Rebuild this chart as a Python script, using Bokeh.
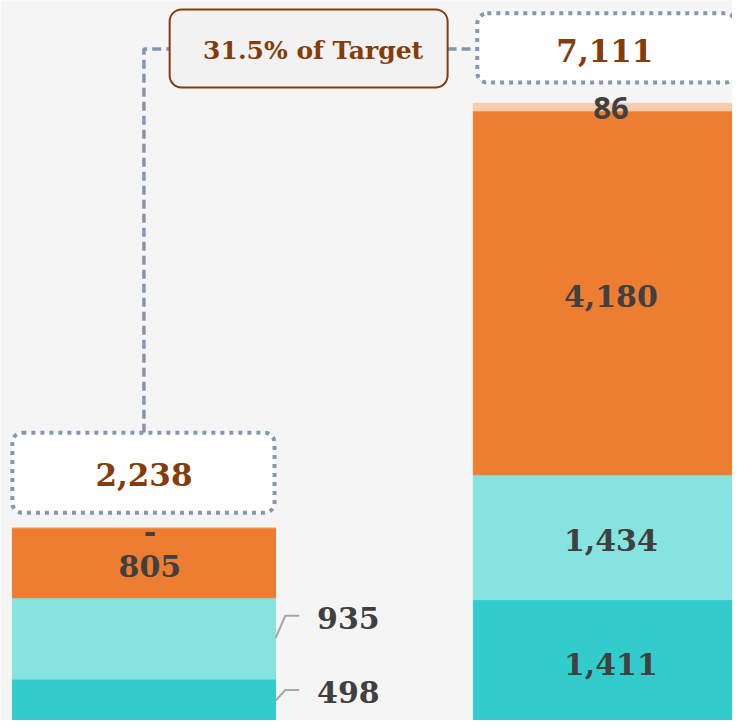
from bokeh.plotting import figure
from bokeh.models import Range1d, ColumnDataSource, BoxAnnotation, Label
from bokeh.core.properties import value
from bokeh.embed import file_html
from bokeh.resources import INLINE

# ---------------- data ----------------
categories = ["Actual", "Target"]
series_names = ["Series A", "Series B", "Series C", "Series D"]
series_a = [498, 1411]
series_b = [935, 1434]
series_c = [805, 4180]
series_d = [0, 86]
colors = ["#33CCCC", "#87E3DF", "#ED7D31", "#F8CBAD"]

# ---------------- layout ----------------
W, H = 732, 720
RW, RH = 740, 728    # reference frame the layout numbers are measured in
X0 = 145             # centre of first bar (ref px)
STEP = 466           # distance between bar centres (ref px)
BASE = 730           # baseline (ref px from top)
K = 0.08803          # ref px per unit
BAR_W = 266 / STEP

def xs(px):  # ref px -> data x
    return (px - X0) / STEP

def ys(py):  # ref px -> data y
    return (BASE - py) / K

p = figure(width=W, height=H, output_backend="svg", toolbar_location=None,
           x_range=Range1d(xs(0), xs(RW)), y_range=Range1d(ys(RH), ys(0)),
           min_border=0)
p.xaxis.visible = False
p.yaxis.visible = False
p.grid.visible = False
p.outline_line_color = None
p.background_fill_color = "#F5F5F5"
p.border_fill_color = "#F5F5F5"

xpos = list(range(len(categories)))
series = [series_a, series_b, series_c, series_d]
src = ColumnDataSource(dict(x=xpos, **{n: v for n, v in zip(series_names, series)}))
p.vbar_stack(series_names, x="x", width=BAR_W, color=colors, source=src)

totals = [sum(s[i] for s in series) for i in xpos]

def fmt(v):
    return "-" if v == 0 else f"{v:,}"

in_x, in_y, in_t = [], [], []
out_x, out_y, out_t = [], [], []
lead_xs, lead_ys = [], []
sans_x, sans_y, sans_t = [], [], []
outside = {(0, 0): 11, (0, 1): 23}   # (bar, series) -> px the label sits above the segment middle
for i in xpos:
    base = 0
    for j, s in enumerate(series):
        v = s[i]
        mid = base + v / 2
        if (i, j) in outside:
            dy = outside[(i, j)] / K
            edge = i + BAR_W / 2
            lead_xs.append([edge, edge + 10 / STEP, edge + 24 / STEP])
            lead_ys.append([mid, mid + dy, mid + dy])
            out_x.append(edge + 42 / STEP)
            out_y.append(mid + dy)
            out_t.append(fmt(v))
        elif j == 3 and v > 0:
            sans_x.append(i)
            sans_y.append(mid)
            sans_t.append(fmt(v))
        else:
            in_x.append(i)
            in_y.append(mid)
            in_t.append(fmt(v))
        base += v

p.multi_line(lead_xs, lead_ys, line_color="#A6A6A6", line_width=2)

serif = value("DejaVu Serif")
p.text(x=in_x, y=in_y, text=in_t, text_font=serif, text_font_style="bold",
       text_font_size="30px", text_color="#404040", text_align="center",
       text_baseline="middle", x_offset=6, y_offset=3)
p.text(x=out_x, y=out_y, text=out_t, text_font=serif, text_font_style="bold",
       text_font_size="30px", text_color="#404040", text_align="left",
       text_baseline="middle", y_offset=2)
p.text(x=sans_x, y=sans_y, text=sans_t, text_font=value("Open Sans"), text_font_style="bold",
       text_font_size="31px", text_color="#404040", text_align="center",
       text_baseline="middle", x_offset=6, y_offset=1)

# connector lines
dash_col = "#8497B0"
p.line([xs(145), xs(145), xs(171)], [ys(437), ys(49), ys(49)],
       line_color=dash_col, line_width=3.5, line_dash="9 5")
p.line([xs(452), xs(482)], [ys(49), ys(49)],
       line_color=dash_col, line_width=3.5, line_dash="9 5")

# boxes
left_box = BoxAnnotation(left=xs(12), right=xs(277), top=ys(437), bottom=ys(518),
                         fill_color="white", fill_alpha=1, line_color=dash_col, line_alpha=1,
                         line_width=4, line_dash="4 5", border_radius=10)
right_box = BoxAnnotation(left=xs(482), right=xs(743), top=ys(13), bottom=ys(83),
                          fill_color="white", fill_alpha=1, line_color=dash_col, line_alpha=1,
                          line_width=4, line_dash="4 5", border_radius=10)
pct_box = BoxAnnotation(left=xs(171), right=xs(452), top=ys(9), bottom=ys(88),
                        fill_color="#F2F2F2", fill_alpha=1, line_color="#843C0C", line_alpha=1,
                        line_width=2, border_radius=12)
for b in (left_box, right_box, pct_box):
    p.add_layout(b)

brown = "#843C0C"
p.add_layout(Label(x=0, y=ys(479), text=f"{totals[0]:,}", text_font="DejaVu Serif",
                   text_font_style="bold", text_font_size="31px", text_color=brown,
                   text_align="center", text_baseline="middle"))
p.add_layout(Label(x=1, y=ys(51), text=f"{totals[1]:,}", text_font="DejaVu Serif",
                   text_font_style="bold", text_font_size="31px", text_color=brown,
                   text_align="center", text_baseline="middle"))
p.add_layout(Label(x=xs(316), y=ys(51), text=f"{totals[0] / totals[1]:.1%} of Target",
                   text_font="DejaVu Serif", text_font_style="bold", text_font_size="25px",
                   text_color=brown, text_align="center", text_baseline="middle"))

open("out.html", "w").write(file_html(p, INLINE))
